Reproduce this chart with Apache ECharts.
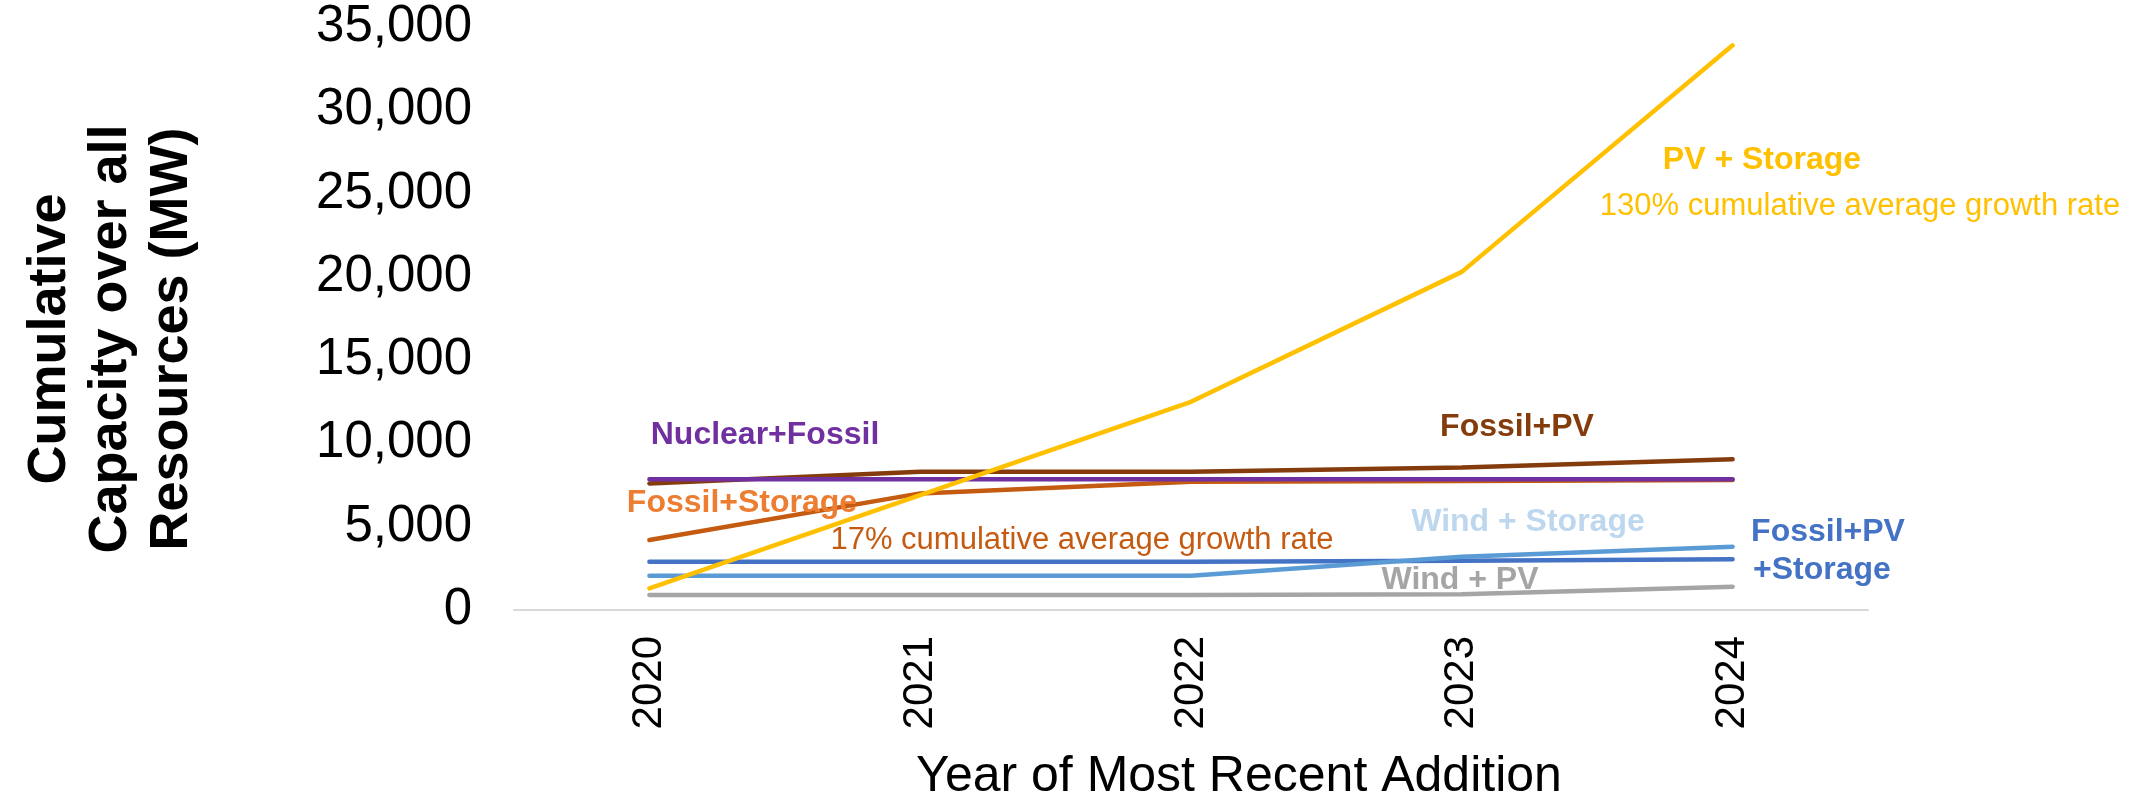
<!DOCTYPE html>
<html>
<head>
<meta charset="utf-8">
<script src="https://cdn.jsdelivr.net/npm/echarts@6/dist/echarts.min.js"></script>
<style>
  html, body { margin: 0; padding: 0; background: #ffffff; }
  #chart { width: 2144px; height: 798px; }
</style>
</head>
<body>
<div id="chart"></div>
<script>
// Year of the most recent capacity addition
const years = ['2020', '2021', '2022', '2023', '2024'];

// Cumulative capacity (MW) by hybrid configuration
const pvStorage        = [1300, 6900, 12500, 20300, 33900];
const fossilPV         = [7600, 8300, 8300, 8550, 9050];
const nuclearFossil    = [7850, 7850, 7850, 7850, 7850];
const fossilStorage    = [4200, 7000, 7700, 7750, 7800];
const fossilPVStorage  = [2900, 2900, 2900, 2950, 3050];
const windStorage      = [2050, 2050, 2050, 3200, 3800];
const windPV           = [900, 900, 900, 950, 1400];

const yTicks = [0, 5000, 10000, 15000, 20000, 25000, 30000, 35000];

const FONT = '"Liberation Sans", Arial, sans-serif';

function line(name, data, color, z) {
  return {
    name: name,
    type: 'line',
    data: data,
    symbol: 'none',
    z: z,
    lineStyle: { color: color, width: 4.5, cap: 'round' },
    emphasis: { disabled: true }
  };
}

function note(text, x, y, color, bold, size) {
  return {
    type: 'text',
    x: x, y: y,
    style: {
      text: text,
      fill: color,
      font: (bold ? 'bold ' : '') + size + 'px ' + FONT,
      align: 'center',
      verticalAlign: 'middle'
    },
    z: 10
  };
}

const chart = echarts.init(document.getElementById('chart'), null, { renderer: 'canvas' });

chart.setOption({
  backgroundColor: '#ffffff',
  animation: false,
  grid: { left: 514, right: 276, top: 27, bottom: 188 },
  xAxis: {
    type: 'category',
    data: years,
    boundaryGap: true,
    axisLine: { show: true, lineStyle: { color: '#D9D9D9', width: 2 } },
    axisTick: { show: false },
    axisLabel: {
      rotate: 90,
      margin: 26,
      color: '#000000',
      fontFamily: FONT,
      fontSize: 42
    }
  },
  yAxis: {
    type: 'value',
    min: yTicks[0],
    max: yTicks[yTicks.length - 1],
    interval: 5000,
    axisLine: { show: false },
    axisTick: { show: false },
    splitLine: { show: false },
    axisLabel: {
      margin: 42,
      color: '#000000',
      fontFamily: FONT,
      fontSize: 51,
      formatter: v => v.toLocaleString('en-US')
    }
  },
  series: [
    line('Fossil+Storage', fossilStorage, '#C55A11', 2),
    line('Fossil+PV', fossilPV, '#843C0C', 3),
    line('Nuclear+Fossil', nuclearFossil, '#7030A0', 4),
    line('Fossil+PV+Storage', fossilPVStorage, '#4472C4', 5),
    line('Wind + Storage', windStorage, '#5B9BD5', 6),
    line('Wind + PV', windPV, '#A5A5A5', 7),
    line('PV + Storage', pvStorage, '#FFC000', 8)
  ],
  graphic: [
    // Axis titles
    {
      type: 'text',
      x: 111, y: 339,
      rotation: Math.PI / 2,
      style: {
        text: 'Cumulative\nCapacity over all\nResources (MW)',
        fill: '#000000',
        font: 'bold 54px ' + FONT,
        lineHeight: 61,
        align: 'center',
        verticalAlign: 'middle'
      }
    },
    {
      type: 'text',
      x: 1239, y: 777,
      style: {
        text: 'Year of Most Recent Addition',
        fill: '#000000',
        font: '50px ' + FONT,
        align: 'center',
        verticalAlign: 'middle'
      }
    },
    // Series annotations
    note('Nuclear+Fossil', 765, 435, '#7030A0', true, 32),
    note('Fossil+PV', 1517, 427, '#843C0C', true, 32),
    note('Fossil+Storage', 742, 503, '#ED7D31', true, 32),
    note('17% cumulative average growth rate', 1082, 540, '#C55A11', false, 31),
    note('Wind + Storage', 1528, 522, '#BDD7EE', true, 32),
    note('Fossil+PV', 1828, 532, '#4472C4', true, 32),
    note('+Storage', 1822, 570, '#4472C4', true, 32),
    note('Wind + PV', 1460, 580, '#A5A5A5', true, 32),
    note('PV + Storage', 1762, 160, '#FFC000', true, 32),
    note('130% cumulative average growth rate', 1860, 206, '#FFC000', false, 31)
  ]
});
</script>
</body>
</html>
